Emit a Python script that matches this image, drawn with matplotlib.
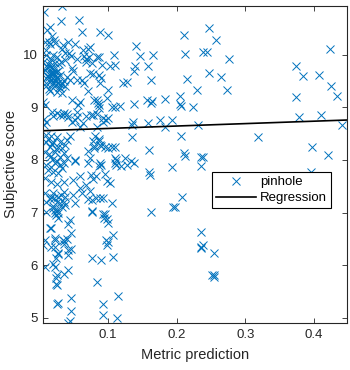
import numpy as np
import matplotlib
matplotlib.use("Agg")
import matplotlib.pyplot as plt

plt.rcParams['font.family'] = ['Liberation Sans', 'DejaVu Sans']

# points: (metric prediction, subjective score)
dense_pts = [
    (0.032, 10.93), (0.006, 10.82), (0.031, 10.65), (0.058, 10.67), (0.062, 10.44),
    (0.015, 10.53), (0.011, 10.48), (0.018, 10.36), (0.008, 10.25), (0.021, 10.29),
    (0.013, 10.24), (0.015, 10.20), (0.022, 10.22), (0.034, 10.19), (0.042, 10.24),
    (0.052, 10.21), (0.010, 10.10), (0.033, 10.12), (0.063, 10.10),
    (0.010, 10.00), (0.019, 10.00), (0.025, 9.96), (0.037, 10.03), (0.043, 10.03),
    (0.046, 9.98), (0.054, 9.92), (0.064, 9.98),
    (0.005, 9.87), (0.015, 9.87), (0.022, 9.84), (0.031, 9.87), (0.037, 9.91),
    (0.015, 9.78), (0.008, 9.72), (0.020, 9.75), (0.027, 9.70), (0.047, 9.75), (0.049, 9.70),
    (0.005, 9.67), (0.013, 9.64), (0.020, 9.66), (0.030, 9.62), (0.040, 9.58),
    (0.010, 9.55), (0.017, 9.52), (0.025, 9.55), (0.035, 9.51), (0.044, 9.52),
    (0.054, 9.52), (0.062, 9.52),
    (0.012, 9.60), (0.018, 9.45), (0.023, 9.42), (0.028, 9.38), (0.009, 9.40),
    (0.014, 9.35), (0.026, 9.58), (0.033, 9.45), (0.024, 9.68), (0.017, 9.92),
    (0.012, 9.82), (0.016, 9.74), (0.019, 9.68), (0.022, 9.60), (0.014, 9.57),
    (0.018, 9.62), (0.024, 9.50), (0.027, 9.47), (0.021, 9.53), (0.016, 9.66),
    (0.011, 9.77), (0.028, 9.82), (0.030, 9.44),
    (0.010, 9.46), (0.020, 9.46), (0.030, 9.37), (0.037, 9.40), (0.064, 9.46),
    (0.032, 9.27), (0.025, 9.30), (0.015, 9.32),
    (0.005, 9.11), (0.008, 9.05), (0.047, 9.14), (0.059, 9.11), (0.056, 9.05),
    (0.018, 8.92), (0.025, 8.89), (0.035, 8.89), (0.020, 8.84), (0.030, 8.85),
    (0.040, 8.87), (0.047, 8.73), (0.052, 8.77), (0.054, 8.92),
    (0.006, 8.78), (0.010, 8.73), (0.006, 8.67),
    (0.034, 8.86), (0.041, 8.82), (0.054, 8.82), (0.059, 8.63), (0.063, 8.70),
    (0.010, 8.48), (0.017, 8.45), (0.025, 8.43), (0.010, 8.35), (0.020, 8.35),
    (0.030, 8.35), (0.015, 8.25), (0.027, 8.25), (0.037, 8.29), (0.008, 8.16),
    (0.022, 8.16), (0.035, 8.13), (0.015, 8.06), (0.030, 8.06), (0.040, 8.03), (0.052, 8.00),
    (0.012, 8.40), (0.018, 8.30), (0.024, 8.20), (0.013, 8.12), (0.019, 8.02),
    (0.026, 7.98), (0.033, 8.22), (0.040, 8.38), (0.044, 8.45), (0.017, 7.86),
    (0.010, 7.90), (0.022, 7.94), (0.030, 7.90), (0.032, 7.84), (0.012, 7.81),
    (0.020, 7.78), (0.027, 7.75), (0.035, 7.94), (0.052, 7.99),
    (0.008, 7.65), (0.017, 7.58), (0.025, 7.55), (0.035, 7.58), (0.049, 7.62),
    (0.059, 7.70), (0.059, 7.47), (0.062, 7.37),
    (0.008, 7.37), (0.020, 7.37), (0.017, 7.30), (0.027, 7.30), (0.035, 7.40),
    (0.037, 7.30), (0.025, 7.21), (0.035, 7.21), (0.010, 7.21), (0.049, 7.33), (0.052, 7.18),
    (0.015, 7.25), (0.021, 7.28), (0.029, 7.18), (0.019, 7.12), (0.031, 7.33),
    (0.020, 7.08), (0.025, 7.05), (0.032, 7.11), (0.037, 7.15), (0.022, 6.99),
    (0.027, 6.99), (0.044, 6.86), (0.042, 6.78), (0.017, 6.71), (0.046, 6.62),
    (0.008, 6.48), (0.022, 6.52), (0.035, 6.46), (0.040, 6.50),
    (0.046, 5.37), (0.046, 5.12), (0.042, 4.90), (0.044, 4.93), (0.025, 5.27),
    (0.027, 5.29), (0.024, 5.65), (0.025, 5.62), (0.024, 5.75), (0.026, 5.81),
    (0.036, 5.84), (0.042, 5.90), (0.008, 5.97), (0.020, 6.03), (0.022, 5.96),
    (0.024, 6.13), (0.027, 6.21), (0.027, 6.24), (0.042, 6.19), (0.042, 6.28),
    (0.046, 6.30), (0.022, 6.34), (0.017, 6.34), (0.005, 6.38), (0.022, 6.48),
    (0.034, 6.48), (0.036, 6.40), (0.015, 6.70), (0.009, 7.02), (0.022, 7.05),
    (0.024, 6.96), (0.027, 6.90),
]

sparse_pts = [
    (0.088, 10.43), (0.100, 10.37), (0.140, 10.17), (0.108, 10.00), (0.146, 9.97),
    (0.165, 10.00), (0.139, 9.79), (0.158, 9.78), (0.138, 9.70), (0.110, 9.81),
    (0.103, 9.78), (0.162, 9.52), (0.127, 9.49), (0.122, 9.47), (0.100, 9.33),
    (0.071, 9.31), (0.098, 9.18), (0.083, 9.14), (0.079, 9.14), (0.138, 9.06),
    (0.156, 9.14), (0.164, 9.12), (0.162, 9.08), (0.183, 9.16), (0.117, 9.03),
    (0.110, 9.00), (0.105, 9.00), (0.087, 9.04), (0.086, 8.98), (0.075, 8.86),
    (0.083, 8.87), (0.068, 8.84), (0.092, 8.80), (0.100, 8.80), (0.136, 8.73),
    (0.135, 8.67), (0.158, 8.70), (0.175, 8.76), (0.183, 8.63), (0.193, 8.76),
    (0.134, 8.44), (0.083, 8.63), (0.081, 8.46), (0.086, 8.37), (0.088, 8.29),
    (0.079, 8.22), (0.071, 8.18), (0.096, 8.25), (0.110, 8.25), (0.100, 8.22),
    (0.160, 8.19), (0.110, 8.04), (0.112, 7.91), (0.110, 7.95), (0.125, 8.04),
    (0.133, 7.99), (0.137, 7.95), (0.128, 7.90), (0.160, 7.77), (0.161, 7.71),
    (0.193, 7.87), (0.071, 7.95), (0.088, 7.95), (0.086, 7.89), (0.075, 7.71),
    (0.095, 7.74), (0.078, 7.64), (0.098, 7.61),
    (0.070, 10.11), (0.073, 10.15), (0.068, 9.92), (0.072, 9.96), (0.083, 9.96),
    (0.087, 9.96), (0.068, 9.86), (0.077, 9.85), (0.091, 9.81), (0.073, 9.65),
    (0.078, 9.64), (0.087, 9.62), (0.090, 9.56), (0.088, 9.47), (0.085, 9.08),
    (0.078, 8.85), (0.097, 8.77), (0.092, 8.73), (0.086, 8.39), (0.078, 8.37),
    (0.080, 8.27), (0.090, 8.27), (0.105, 8.25), (0.112, 8.00), (0.073, 8.03),
    (0.090, 7.90), (0.119, 7.89), (0.082, 7.70), (0.102, 7.57), (0.068, 7.52),
    (0.074, 7.41), (0.077, 7.24), (0.082, 7.27), (0.092, 7.27), (0.106, 7.19),
    (0.077, 7.02), (0.098, 6.87), (0.099, 6.81),
    (0.162, 7.02), (0.194, 7.11), (0.088, 7.27), (0.071, 7.25), (0.076, 7.03),
    (0.093, 6.97), (0.096, 6.97), (0.094, 6.89), (0.107, 6.58), (0.097, 6.48),
    (0.100, 6.44), (0.098, 6.38), (0.076, 6.14), (0.090, 6.10), (0.107, 6.16),
    (0.083, 5.68), (0.115, 5.41), (0.093, 5.27), (0.092, 5.06), (0.113, 5.00),
    (0.211, 10.38), (0.247, 10.51), (0.257, 10.29), (0.212, 10.02), (0.238, 10.06),
    (0.244, 10.06), (0.276, 9.92), (0.215, 9.54), (0.247, 9.66), (0.265, 9.58),
    (0.230, 9.33), (0.273, 9.33), (0.204, 9.21), (0.205, 9.06), (0.206, 9.03),
    (0.224, 9.00), (0.231, 8.67), (0.206, 8.46), (0.318, 8.43), (0.211, 8.13),
    (0.212, 8.07), (0.235, 8.06), (0.238, 8.05), (0.235, 7.89),
    (0.374, 9.79), (0.384, 9.60), (0.408, 9.62), (0.423, 10.11), (0.425, 9.41),
    (0.433, 9.22), (0.374, 9.19), (0.378, 8.81), (0.410, 8.86), (0.441, 8.67),
    (0.397, 8.25), (0.421, 8.10), (0.395, 7.77),
    (0.208, 7.29), (0.197, 7.11), (0.235, 6.63), (0.236, 6.35), (0.238, 6.38),
    (0.235, 6.33), (0.254, 6.24), (0.254, 5.82), (0.255, 5.78), (0.252, 5.81),
]

metric = np.array([p[0] for p in dense_pts + sparse_pts])
score = np.array([p[1] for p in dense_pts + sparse_pts])

reg_intercept = 8.554
reg_slope = 0.46

x_range = (0.005, 0.448)
y_range = (4.9, 10.93)

fig = plt.figure(figsize=(3.5, 3.7), dpi=100)
ax = fig.add_axes([0.123, 0.127, 0.868, 0.857])

blue = '#0072BD'
ax.plot(metric, score, 'x', color=blue, markersize=5.2, markeredgewidth=0.7,
        label='pinhole')
xr = np.array(x_range)
ax.plot(xr, reg_intercept + reg_slope * xr, color='black', lw=1.2, label='Regression')

ax.set_xlim(*x_range)
ax.set_ylim(*y_range)
ax.set_xticks([0.1, 0.2, 0.3, 0.4])
ax.set_xticklabels(['0.1', '0.2', '0.3', '0.4'])
ax.set_yticks([5, 6, 7, 8, 9, 10])

grey = '#262626'
for s in ax.spines.values():
    s.set_color(grey)
    s.set_linewidth(0.8)
ax.tick_params(direction='in', top=True, right=True, length=3.5, width=0.6,
               colors=grey, labelsize=9.5, pad=4)
ax.set_xlabel('Metric prediction', fontsize=10.5, color=grey, labelpad=5)
ax.set_ylabel('Subjective score', fontsize=10.5, color=grey, labelpad=3)

leg = ax.legend(loc='upper right', bbox_to_anchor=(0.947, 0.476), borderaxespad=0,
                fontsize=9.5, fancybox=False, edgecolor='black', framealpha=1,
                handlelength=3.0, handletextpad=0.3, borderpad=0.3, labelspacing=0.3)
leg.get_frame().set_linewidth(0.8)

fig.savefig('out.png', dpi=100)
